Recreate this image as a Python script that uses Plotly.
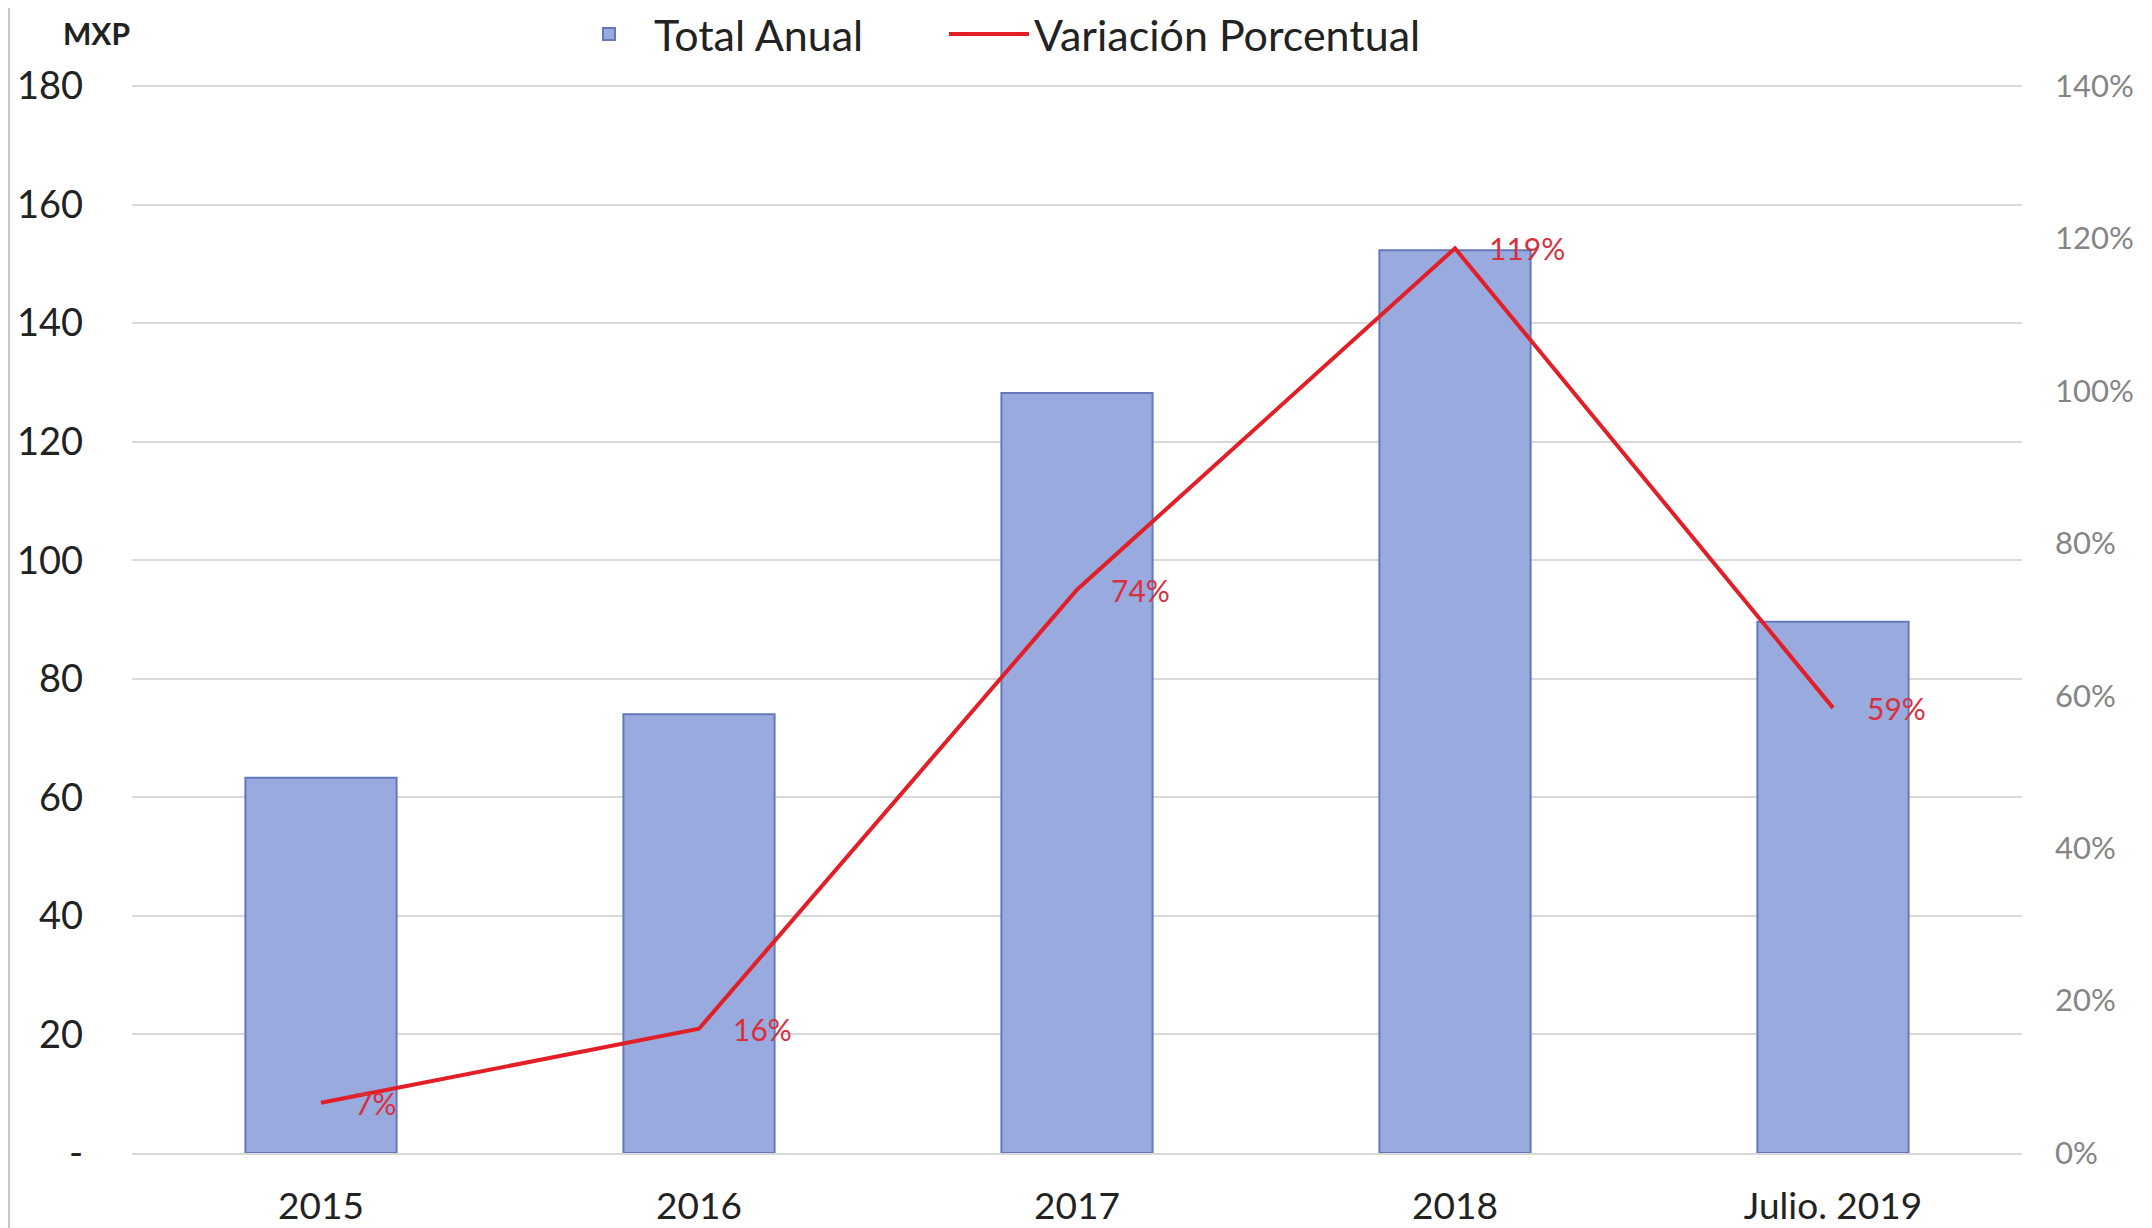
import plotly.graph_objects as go

categories = ["2015", "2016", "2017", "2018", "Julio. 2019"]
total_anual = [63.3, 74.0, 128.2, 152.3, 89.6]
variacion = [0.066, 0.163, 0.739, 1.187, 0.584]
variacion_labels = ["7%", "16%", "74%", "119%", "59%"]
left_ticks = [0, 20, 40, 60, 80, 100, 120, 140, 160, 180]
left_ticktext = ["-", "20", "40", "60", "80", "100", "120", "140", "160", "180"]
right_ticks = [0, 0.2, 0.4, 0.6, 0.8, 1.0, 1.2, 1.4]

# page body has an 8px margin, so the figure is shifted by 8px
W, H = 2144, 1220
ml, mr, mt, mb = 124, 130, 75, 75
pw, ph = W - ml - mr, H - mt - mb
Y_MAX = 180.5                    # a little headroom so the 180 gridline is drawn
Y2_MAX = 1.4 * Y_MAX / 180       # keeps 140% aligned with 180
FONT = "Lato, Carlito, 'Open Sans', sans-serif"

fig = go.Figure()
fig.add_trace(go.Bar(
    x=categories, y=total_anual, name="Total Anual",
    marker=dict(color="#98aade", line=dict(color="#6478bc", width=2)),
    width=0.4, legend="legend",
))
fig.add_trace(go.Scatter(
    x=categories, y=variacion, name="Variación Porcentual", yaxis="y2",
    mode="lines", line=dict(color="#e21e26", width=4), legend="legend2",
))

for i, (v, t) in enumerate(zip(variacion, variacion_labels)):
    fig.add_annotation(x=i, y=v, xref="x", yref="y2", text=t, showarrow=False,
                       xanchor="left", yanchor="middle", xshift=32,
                       font=dict(family=FONT, size=30, color="#d8303c"))

fig.add_annotation(xref="paper", yref="paper", x=(88 - ml) / pw, y=1 + (mt - 25) / ph,
                   text="<b>MXP</b>", showarrow=False, xanchor="center", yanchor="middle",
                   font=dict(family=FONT, size=30, color="#222222"))

fig.add_shape(type="line", xref="paper", yref="paper",
              x0=(1 - ml) / pw, x1=(1 - ml) / pw, y0=-mb / ph, y1=1 + mt / ph,
              line=dict(color="#c8c8c8", width=2))

legend_common = dict(orientation="h", xanchor="left", yanchor="middle",
                     font=dict(family=FONT, size=43, color="#222222"),
                     itemwidth=80, bgcolor="rgba(0,0,0,0)")

fig.update_layout(
    width=W, height=H,
    margin=dict(l=ml, r=mr, t=mt, b=mb, autoexpand=False),
    paper_bgcolor="white", plot_bgcolor="white",
    font=dict(family=FONT, color="#222222"),
    showlegend=True,
    legend=dict(x=(556 - ml) / pw, y=1 + (mt - 26) / ph, **legend_common),
    legend2=dict(x=(936 - ml) / pw, y=1 + (mt - 26) / ph, **legend_common),
    xaxis=dict(range=[-0.5, 4.5], showgrid=False, zeroline=False,
               showline=True, linecolor="#d9d9d9", linewidth=2,
               ticks="", tickfont=dict(family=FONT, size=37, color="#222222"),
               ticklabelstandoff=20, automargin=False),
    yaxis=dict(range=[0, Y_MAX], tickvals=left_ticks, ticktext=left_ticktext,
               showgrid=True, gridcolor="#d9d9d9", gridwidth=2, zeroline=False,
               ticks="", tickfont=dict(family=FONT, size=38, color="#222222"),
               ticklabelstandoff=48, automargin=False),
    yaxis2=dict(range=[0, Y2_MAX], tickvals=right_ticks, tickformat=".0%",
                overlaying="y", side="right", showgrid=False, zeroline=False,
                ticks="", tickfont=dict(family=FONT, size=31, color="#858585"),
                ticklabelstandoff=32, automargin=False),
)

fig.write_html("out.html")
